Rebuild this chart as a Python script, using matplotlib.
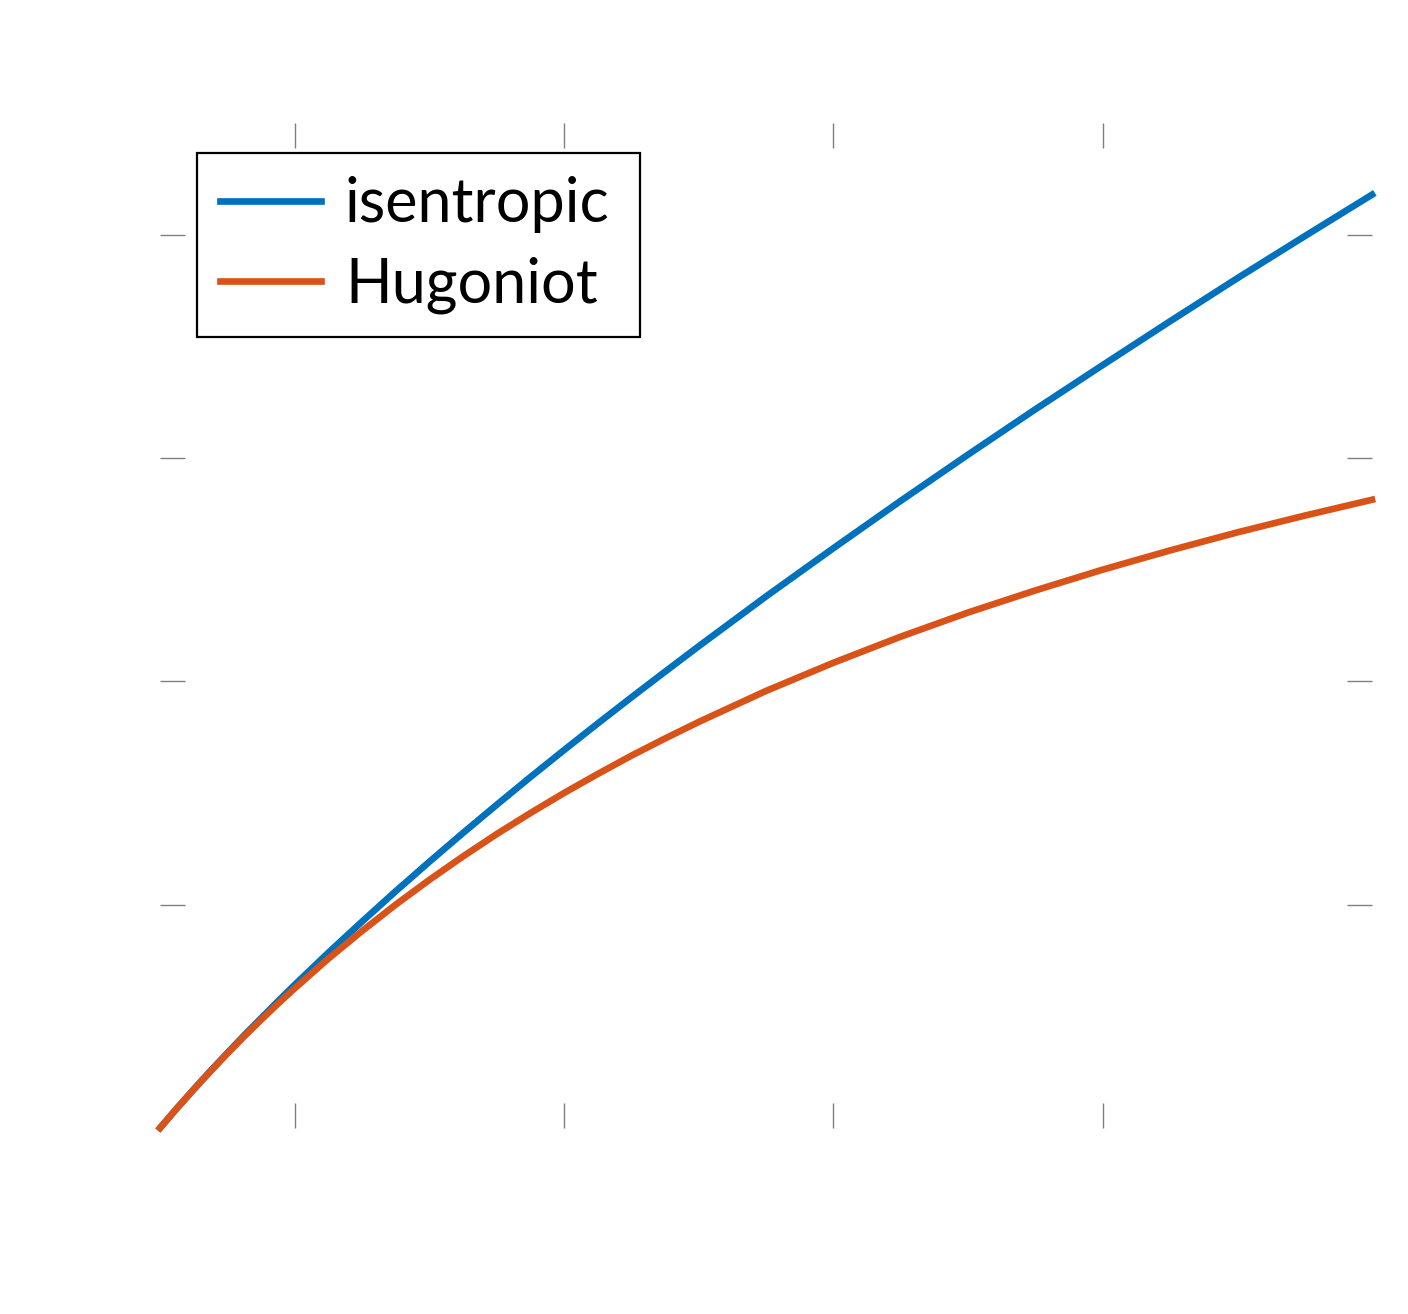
import matplotlib.pyplot as plt
import matplotlib as mpl

mpl.rcParams['font.family'] = 'Lato'

# pressure ratio (x) and density ratio (y)
p_ratio = [1.0, 1.125, 1.25, 1.375, 1.5, 1.625, 1.75, 1.875, 2.0, 2.25, 2.5, 2.75,
           3.0, 3.25, 3.5, 3.75, 4.0, 4.25, 4.5, 4.75, 5.0,
           5.5, 6.0, 6.5, 7.0, 7.5, 8.0, 8.5, 9.0, 9.5, 10.0]
rho_isentropic = [1.000, 1.088, 1.173, 1.256, 1.336, 1.415, 1.491, 1.567, 1.641, 1.785, 1.924, 2.060,
                  2.192, 2.321, 2.447, 2.571, 2.692, 2.811, 2.928, 3.043, 3.157,
                  3.380, 3.596, 3.808, 4.015, 4.218, 4.416, 4.612, 4.805, 4.993, 5.179]
rho_hugoniot = [1.000, 1.088, 1.172, 1.254, 1.333, 1.410, 1.484, 1.556, 1.625, 1.758, 1.882, 2.000,
                2.111, 2.216, 2.316, 2.410, 2.500, 2.585, 2.667, 2.744, 2.818,
                2.957, 3.083, 3.200, 3.308, 3.407, 3.500, 3.586, 3.667, 3.742, 3.813]
labels = ['isentropic', 'Hugoniot']
colors = ['#0072BD', '#D95319']

W, H = 1408, 1314
fig = plt.figure(figsize=(W / 200, H / 200), dpi=200)
ax = fig.add_axes([160 / W, 1 - 1128 / H, (1372 - 160) / W, (1128 - 123) / H])

ax.plot(p_ratio, rho_isentropic, color=colors[0], lw=2.4, label=labels[0], clip_on=False)
ax.plot(p_ratio, rho_hugoniot, color=colors[1], lw=2.4, label=labels[1], clip_on=False)

ax.set_xlim(1, 10)
ax.set_ylim(1, 5.5)
ax.set_xticks([2, 4, 6, 8])
ax.set_yticks([2, 3, 4, 5])
ax.tick_params(direction='in', length=9, width=0.5, color='#808080',
               top=True, right=True, labelbottom=False, labelleft=False)
for s in ax.spines.values():
    s.set_visible(False)

leg = ax.legend(loc='upper left',
                bbox_to_anchor=(197 / W, 1 - 337 / H, (640 - 197) / W, (337 - 153) / H),
                bbox_transform=fig.transFigure, mode='expand', borderaxespad=0, fontsize=22,
                handlelength=1.65, handletextpad=0.39, labelspacing=0.38,
                borderpad=0.38, fancybox=False, framealpha=1)
leg.get_frame().set_edgecolor('black')
leg.get_frame().set_linewidth(0.8)

fig.savefig('out.png', dpi=200)
